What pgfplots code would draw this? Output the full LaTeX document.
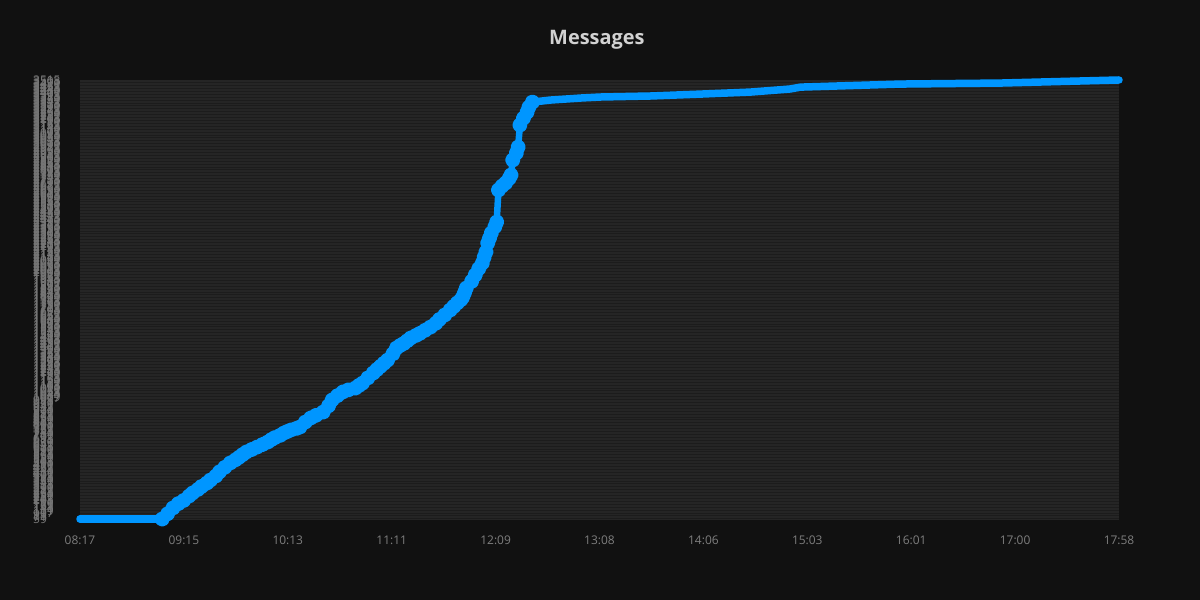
\documentclass[border=0pt]{standalone}
\usepackage{pgfplots}
\pgfplotsset{compat=1.18}
\usepackage{fontspec}
\setmainfont{Open Sans}
\definecolor{pagebg}{HTML}{111111}
\definecolor{plotbg}{HTML}{1C1C1C}
\definecolor{gridc}{HTML}{252525}
\definecolor{linec}{RGB}{0,150,255}
\definecolor{ticklab}{HTML}{7E7E7E}
\definecolor{ylab}{HTML}{767676}
\definecolor{titlec}{HTML}{D2D2D2}
\pgfplotstableread{
x y
497 59
543 59
}\flatlow
\pgfplotstableread{
x y
543 59
546 100
549 146
552 180
555 205
558 240
560 264
563 292
565 315
568 342
570 366
573 398
575 430
578 466
581 500
584 525
586 545
588 566
590 586
593 606
596 625
599 645
602 665
604 684
606 700
609 718
611 736
613 748
615 760
618 772
620 783
623 822
626 854
629 875
633 901
636 950
638 996
641 1030
644 1059
647 1075
651 1090
653 1110
655 1129
658 1170
661 1208
663 1235
665 1260
667 1285
669 1310
672 1360
674 1405
676 1425
678 1440
680 1462
682 1484
685 1505
687 1520
690 1545
693 1570
696 1600
698 1630
701 1665
704 1704
706 1732
708 1760
710 1785
711 1806
712 1840
713 1877
716 1930
718 1980
720 2030
722 2074
723 2120
724 2161
725 2231
726 2270
727 2310
729 2360
730 2397
731 2649
733 2680
735 2704
737 2740
738 2767
739 2885
741 2940
742 2987
743 3160
745 3215
747 3262
748 3300
750 3341
}\rise
\pgfplotstableread{
x y
750 3341
760 3357
777 3373
788 3381
816 3389
844 3404
872 3420
894 3444
900 3459
956 3483
1012 3491
1078 3515
}\flathigh
\begin{document}
\begin{tikzpicture}
\fill[pagebg] (0,0) rectangle (1200bp,600bp);
\begin{axis}[
  at={(80bp,80bp)}, anchor=south west,
  scale only axis, width=1039bp, height=440bp,
  xmin=497, xmax=1078, ymin=51, ymax=3515,
  clip=false,
  axis background/.style={fill=plotbg},
  axis line style={draw=none},
  major tick length=0pt,
  ymajorgrids, grid style={gridc, line width=0.8bp},
  xtick={497,555.1,613.2,671.3,729.4,787.5,845.6,903.7,961.8,1019.9,1078},
  xticklabels={08:17,09:15,10:13,11:11,12:09,13:08,14:06,15:03,16:01,17:00,17:58},
  xticklabel style={font=\fontsize{12}{14}\selectfont, text=ticklab, anchor=center, yshift=-20bp},
  ytick={59,71,...,3515},
  /pgf/number format/1000 sep={},
  /pgf/number format/assume math mode=true,
  yticklabel style={font=\fontsize{12}{12}\selectfont, text=ylab, anchor=west, xshift=-47bp, inner sep=0pt},
  title={Messages},
  title style={font=\bfseries\fontsize{20}{24}\selectfont, text=titlec, at={(0.4975,1)}, anchor=center, yshift=34bp},
]
\addplot[color=linec, line width=7.5bp, line cap=round, line join=round] table {\flatlow};
\addplot[color=linec, line width=7.5bp, line cap=round, line join=round] table {\flathigh};
\addplot[color=linec, line width=6.5bp, line cap=round, line join=round,
  mark=*, mark size=4.3bp, mark options={fill=linec, draw=none}] table {\rise};
\end{axis}
\pgfresetboundingbox
\path (0,0) rectangle (1200bp,600bp);
\end{tikzpicture}
\end{document}
